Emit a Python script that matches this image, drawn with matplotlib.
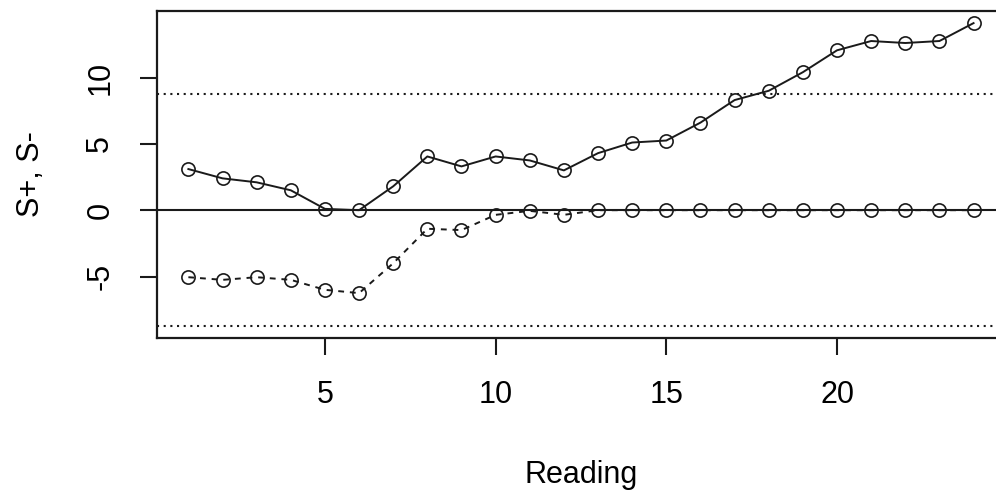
import matplotlib
matplotlib.use('Agg')
import matplotlib.pyplot as plt
import numpy as np

# CUSUM readings
reading = list(range(1, 25))
s_plus = [3.1, 2.4, 2.1, 1.5, 0.1, 0.0, 1.8, 4.05, 3.3, 4.05, 3.75, 3.0,
          4.3, 5.1, 5.25, 6.6, 8.3, 9.0, 10.4, 12.05, 12.75, 12.6, 12.75, 14.1]
s_minus = [-5.05, -5.25, -5.05, -5.25, -6.0, -6.25, -4.0, -1.4, -1.5, -0.35, -0.05, -0.35,
           0, 0, 0, 0, 0, 0, 0, 0, 0, 0, 0, 0]
h = 8.72
xticks = [5, 10, 15, 20]
yticks = [-5, 0, 5, 10]

plt.rcParams['font.family'] = ['Liberation Sans', 'DejaVu Sans']
plt.rcParams['axes.unicode_minus'] = False
ink = '#1a1a1a'

fig = plt.figure(figsize=(9.96, 4.91), dpi=100)
ax = fig.add_axes([0.1576, 0.3116, 0.8514, 0.666])

ax.axhline(0, color=ink, lw=1.5)
ax.axhline(h, color=ink, lw=1.5, linestyle=(0, (1, 2.2)))
ax.axhline(-h, color=ink, lw=1.5, linestyle=(0, (1, 2.2)))

ax.plot(reading, s_plus, color=ink, lw=1.4, marker='o', ms=9.5,
        mfc='none', mec=ink, mew=1.2)
ax.plot(reading, s_minus, color=ink, lw=1.4, linestyle=(0, (3, 3)), marker='o', ms=9.5,
        mfc='none', mec=ink, mew=1.2)

# R-style 4% axis extension
xlo, xhi = min(reading), max(reading)
xp = 0.04 * (xhi - xlo)
ax.set_xlim(xlo - xp, xhi + xp)
ylo, yhi = -h, max(s_plus)
yp = 0.04 * (yhi - ylo)
ax.set_ylim(ylo - yp, yhi + yp)

ax.set_xticks(xticks)
ax.set_yticks(yticks)
ax.tick_params(axis='both', direction='out', length=12, width=1.5, color=ink,
               labelsize=22)
ax.tick_params(axis='x', pad=18)
ax.tick_params(axis='y', pad=18)
for lab in ax.get_yticklabels():
    lab.set_rotation(90)
    lab.set_va('center')

for sp in ax.spines.values():
    sp.set_linewidth(1.6)
    sp.set_color(ink)

ax.set_xlabel('Reading', fontsize=22, labelpad=36)
ax.set_ylabel('S+, S-', fontsize=22, labelpad=28)

fig.savefig('out.png', dpi=100)
